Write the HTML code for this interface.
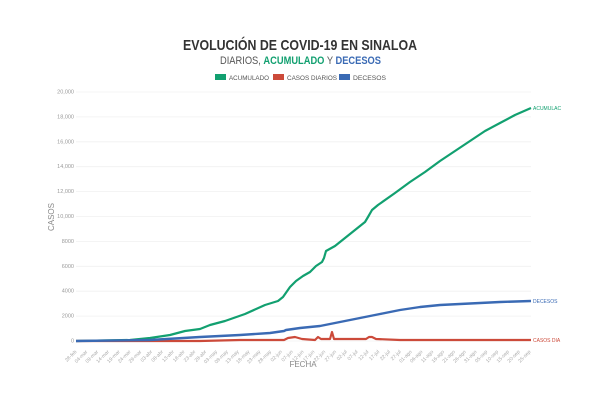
<!DOCTYPE html>
<html><head><meta charset="utf-8"><style>
body{margin:0;background:#fff;width:600px;height:400px;overflow:hidden;font-family:"Liberation Sans",sans-serif}
</style></head><body>
<svg width="600" height="400" xmlns="http://www.w3.org/2000/svg" font-family="Liberation Sans, sans-serif">
<text x="183" y="50" font-size="15" font-weight="bold" fill="#333" textLength="234" lengthAdjust="spacingAndGlyphs">EVOLUCIÓN DE COVID-19 EN SINALOA</text>
<text x="220" y="64" font-size="11" fill="#555" textLength="161" lengthAdjust="spacingAndGlyphs">DIARIOS, <tspan fill="#12a070" font-weight="bold">ACUMULADO</tspan> Y <tspan fill="#3a6ab4" font-weight="bold">DECESOS</tspan></text>
<rect x="215" y="74" width="11" height="6" fill="#12a070"/><text x="229" y="80" font-size="6.5" fill="#555" textLength="40" lengthAdjust="spacingAndGlyphs">ACUMULADO</text>
<rect x="273" y="74" width="11" height="6" fill="#cc4a3a"/><text x="287" y="80" font-size="6.5" fill="#555" textLength="50" lengthAdjust="spacingAndGlyphs">CASOS DIARIOS</text>
<rect x="339" y="74" width="11" height="6" fill="#3a6ab4"/><text x="353" y="80" font-size="6.5" fill="#555" textLength="33" lengthAdjust="spacingAndGlyphs">DECESOS</text>
<g id="grid" stroke="#f0f0f0" stroke-width="0.8"></g>
<g id="yl" font-size="5.5" fill="#999" text-anchor="end"></g>
<g id="xl" font-size="5" fill="#aaa"></g>
<text x="54" y="217" font-size="8" fill="#888" text-anchor="middle" transform="rotate(-90 54 217)">CASOS</text>
<text x="303" y="367" font-size="8" fill="#888" text-anchor="middle">FECHA</text>
<polyline id="acc" fill="none" stroke="#12a070" stroke-width="2.2" stroke-linejoin="round"/>
<polyline id="dia" fill="none" stroke="#cc4a3a" stroke-width="2.2" stroke-linejoin="round"/>
<polyline id="dec" fill="none" stroke="#3a6ab4" stroke-width="2.4" stroke-linejoin="round"/>
<text x="533" y="110" font-size="5" fill="#12a070">ACUMULAC</text>
<text x="533" y="303" font-size="5" fill="#3a6ab4">DECESOS</text>
<text x="533" y="342" font-size="5" fill="#cc4a3a">CASOS DIA</text>
</svg>
<script>
var ns="http://www.w3.org/2000/svg";
function el(p,t,a,txt){var e=document.createElementNS(ns,t);for(var k in a)e.setAttribute(k,a[k]);if(txt)e.textContent=txt;document.getElementById(p).appendChild(e);}
for(var i=0;i<=10;i++){var y=341-i*24.9;el("grid","line",{x1:76,x2:531,y1:y,y2:y});
var v=i*2000;var s=v>=10000?v.toLocaleString("en-US"):String(v);el("yl","text",{x:74,y:y+1.5},s);}
var m=["feb","mar","abr","may","jun","jul","ago","sep"],dm=[29,31,30,31,30,31,31,30];
var mi=0,d=28;
for(var i=0;i<43;i++){var x=77+i*(454/42);var lab=(d<10?"0":"")+d+"-"+m[mi];
el("xl","text",{x:x,y:352,"text-anchor":"end",transform:"rotate(-45 "+x+" 352)"},lab);
d+=5;if(d>dm[mi]){d-=dm[mi];mi++;}}
function pts(a){return a.map(function(p){return p[0]+","+p[1]}).join(" ");}
document.getElementById("acc").setAttribute("points",pts([[76,341],[130,340],[150,338],[170,335],[185,331],[200,329],[210,325],[225,321],[245,314],[265,305],[278,301],[283,297],[290,287],[296,281],[303,276],[310,272],[316,266],[322,262],[324,258],[326,251],[335,246],[345,238],[355,230],[365,222],[368,217],[372,210],[378,205],[395,193],[410,182],[425,172],[440,161],[455,151],[470,141],[485,131],[500,123],[515,115],[531,108]]));
document.getElementById("dec").setAttribute("points",pts([[76,341],[150,340],[200,337],[240,335],[270,333],[284,331],[286,330],[300,328],[320,326],[340,322],[360,318],[380,314],[400,310],[420,307],[440,305],[460,304],[480,303],[500,302],[531,301]]));
document.getElementById("dia").setAttribute("points",pts([[76,341],[200,341],[240,340],[284,340],[288,338],[295,337],[302,339],[315,340],[318,337],[321,339],[330,339],[332,332],[334,339],[345,339],[366,339],[369,337],[372,337],[376,339],[400,340],[531,340]]));
</script>
</body></html>
